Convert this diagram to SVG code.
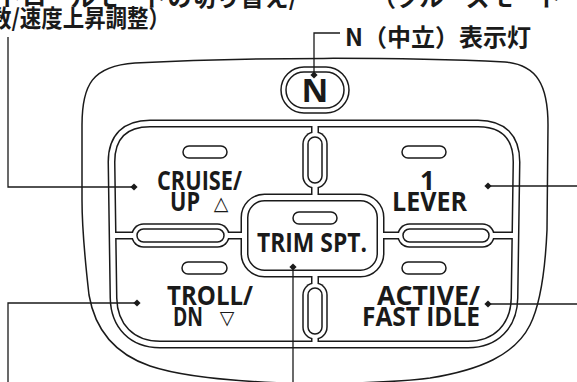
<svg xmlns="http://www.w3.org/2000/svg" width="577" height="382" viewBox="0 0 577 382">
<defs>
<style>
.ln{fill:none;stroke:#1a1a1a;stroke-width:1.5}
.chb{fill:none;stroke:#1a1a1a;stroke-width:8}
.chw{fill:none;stroke:#fff;stroke-width:5}
.bb{fill:#1a1a1a}
.bw{fill:#fff}
.pill{fill:#fff;stroke:#1a1a1a;stroke-width:1.5}
.led{fill:#fff;stroke:#1a1a1a;stroke-width:1.5}
.lbl{font-family:"Open Sans","Noto Sans",sans-serif;font-weight:700;font-size:26px;fill:#1a1a1a}
.sym{font-family:"DejaVu Sans",sans-serif;font-size:19px;fill:#1a1a1a}
.jp{font-family:"Noto Sans CJK JP",sans-serif;font-weight:bold;font-size:24px;fill:#1a1a1a}
.lead{fill:none;stroke:#1a1a1a;stroke-width:1.3}
</style>
<marker id="dia" markerUnits="userSpaceOnUse" markerWidth="10" markerHeight="10" viewBox="-5 -5 10 10" refX="0" refY="0" orient="auto">
<path d="M0,-3.6 L3.6,0 L0,3.6 L-3.6,0 Z" fill="#1a1a1a"/>
</marker>
</defs>
<rect width="577" height="382" fill="#fff"/>

<g id="top-labels">
<text class="jp" x="-2" y="6" textLength="300" lengthAdjust="spacing">トロールモードの切り替え/</text>
<text class="jp" x="-10" y="27" textLength="180" lengthAdjust="spacingAndGlyphs">数/速度上昇調整）</text>
<text class="jp" x="372" y="6" letter-spacing="0">（クルーズモード</text>
<text class="jp" x="345" y="46" font-size="24" textLength="186" lengthAdjust="spacingAndGlyphs">N（中立）表示灯</text>
</g>

<g id="body">
<path class="ln" stroke-width="1.6" d="M82,125 C82,85 92,66 135,63 C250,57 400,57 505,62 C537,65 548,85 548,125 L547,230 C545,275 540,305 530,325 C515,355 480,370 430,378 C400,382 330,385 283,383 C230,381 180,376 150,366 C115,354 95,330 89,295 C85,260 82,230 82,200 Z"/>
</g>

<g id="n-indicator">
<rect class="ln" x="281" y="67" width="68" height="46" rx="23"/>
<rect class="ln" x="286" y="72" width="58" height="36" rx="18"/>
<text x="315" y="102" text-anchor="middle" font-family="'Open Sans','Liberation Sans',sans-serif" font-weight="700" font-size="33" fill="#1a1a1a">N</text>
</g>

<g id="panel">
<g id="channels-black">
<path class="chb" d="M150,123.5 L478,123.5 C503,123.5 516.5,137 516.5,162 L514.5,298 C514,326 496,344.5 468,344.5 L160,344.5 C132,344.5 114,326 113.5,298 L111.5,162 C111.5,137 125,123.5 150,123.5 Z"/>
<path class="chb" d="M315,123.5 V197.5 M315,273.5 V344.5 M111.5,235.5 H244.5 M380.5,235.5 H515.5"/>
<rect class="chb" x="244.5" y="197.5" width="136" height="76" rx="20"/>
<rect class="bb" x="302.25" y="131.25" width="25.5" height="57.5" rx="12.75"/>
<rect class="bb" x="302.25" y="282.25" width="25.5" height="57.5" rx="12.75"/>
<rect class="bb" x="131.25" y="223.25" width="98.5" height="24.5" rx="12.25"/>
<rect class="bb" x="397.25" y="223.25" width="97.5" height="24.5" rx="12.25"/>
</g>
<g id="channels-white">
<path class="chw" d="M150,123.5 L478,123.5 C503,123.5 516.5,137 516.5,162 L514.5,298 C514,326 496,344.5 468,344.5 L160,344.5 C132,344.5 114,326 113.5,298 L111.5,162 C111.5,137 125,123.5 150,123.5 Z"/>
<path class="chw" d="M315,123.5 V197.5 M315,273.5 V344.5 M111.5,235.5 H244.5 M380.5,235.5 H515.5"/>
<rect class="chw" x="244.5" y="197.5" width="136" height="76" rx="20"/>
<rect class="bw" x="303.75" y="132.75" width="22.5" height="54.5" rx="11.25"/>
<rect class="bw" x="303.75" y="283.75" width="22.5" height="54.5" rx="11.25"/>
<rect class="bw" x="132.75" y="224.75" width="95.5" height="21.5" rx="10.75"/>
<rect class="bw" x="398.75" y="224.75" width="94.5" height="21.5" rx="10.75"/>
</g>
<rect class="pill" x="308" y="137" width="14" height="46" rx="7"/>
<rect class="pill" x="308" y="288" width="14" height="46" rx="7"/>
<rect class="pill" x="137" y="229" width="87" height="13" rx="6.5"/>
<rect class="pill" x="403" y="229" width="86" height="13" rx="6.5"/>
</g>

<g id="btn-cruise">
<rect class="led" x="183" y="146" width="44" height="12" rx="6"/>
<text class="lbl" x="157" y="190" textLength="85" lengthAdjust="spacingAndGlyphs">CRUISE/</text>
<text class="lbl" x="170" y="211" textLength="30" lengthAdjust="spacingAndGlyphs">UP</text>
<text class="sym" x="221" y="210" text-anchor="middle">△</text>
</g>

<g id="btn-lever">
<rect class="led" x="402" y="146" width="44" height="12" rx="6"/>
<text class="lbl" x="427.5" y="190" text-anchor="middle">1</text>
<text class="lbl" x="392" y="211" textLength="75" lengthAdjust="spacingAndGlyphs">LEVER</text>
</g>

<g id="btn-trim">
<rect class="led" x="293" y="212" width="44" height="12" rx="6"/>
<text class="lbl" x="257" y="252" textLength="110" lengthAdjust="spacingAndGlyphs">TRIM SPT.</text>
</g>

<g id="btn-troll">
<rect class="led" x="182" y="262" width="45" height="12" rx="6"/>
<text class="lbl" x="167" y="305" textLength="86" lengthAdjust="spacingAndGlyphs">TROLL/</text>
<text class="lbl" x="173" y="326" textLength="30" lengthAdjust="spacingAndGlyphs">DN</text>
<text class="sym" x="227" y="324" text-anchor="middle">▽</text>
</g>

<g id="btn-active">
<rect class="led" x="402" y="262" width="44" height="12" rx="6"/>
<text class="lbl" x="377" y="305" textLength="103" lengthAdjust="spacingAndGlyphs">ACTIVE/</text>
<text class="lbl" x="362" y="326" textLength="118" lengthAdjust="spacingAndGlyphs">FAST IDLE</text>
</g>

<g id="connectors">
<polyline class="lead" points="8,37 8,187 134,187" marker-end="url(#dia)"/>
<polyline class="lead" points="340,33 314,33 314,75" marker-end="url(#dia)"/>
<polyline class="lead" points="577,186 488,186" marker-end="url(#dia)"/>
<polyline class="lead" points="8,382 8,303 137,303" marker-end="url(#dia)"/>
<polyline class="lead" points="293,382 293,267" marker-end="url(#dia)"/>
<polyline class="lead" points="577,304 488,304" marker-end="url(#dia)"/>
</g>
</svg>
